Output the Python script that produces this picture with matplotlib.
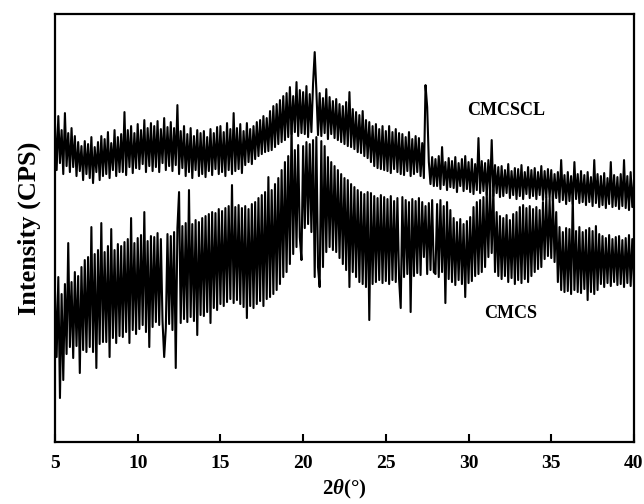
"""XRD patterns of CMCS and cross-linked CMCSCL (2theta 5-40 deg)."""

import matplotlib
matplotlib.use("Agg")
import matplotlib.pyplot as plt
import numpy as np

# ---------------------------------------------------------------------------
# Data: intensity (arbitrary units) every 0.1 deg, 5.0 -> 40.0
# each row below is one degree (x.0 ... x.9); the last value is 40.0
# ---------------------------------------------------------------------------
TWO_THETA_START = 5.0
TWO_THETA_STEP = 0.1

cmcscl = [
    318, 272, 326, 279, 312, 268, 329, 276, 309, 270,   # 5
    314, 275, 306, 266, 300, 271, 296, 262, 301, 268,   # 6
    298, 264, 305, 259, 295, 270, 300, 262, 306, 266,   # 7
    303, 268, 310, 264, 299, 272, 312, 266, 305, 270,   # 8
    308, 270, 330, 267, 312, 275, 316, 269, 309, 274,   # 9
    318, 273, 312, 278, 322, 270, 314, 276, 319, 271,   # 10
    316, 275, 321, 270, 313, 279, 324, 272, 315, 276,   # 11
    320, 271, 314, 277, 337, 268, 311, 274, 316, 266,   # 12
    308, 270, 314, 264, 306, 272, 312, 266, 309, 268,   # 13
    311, 265, 305, 271, 313, 267, 309, 273, 315, 268,   # 14
    316, 270, 310, 266, 319, 272, 313, 268, 329, 271,   # 15
    314, 273, 318, 269, 311, 277, 319, 280, 313, 278,   # 16
    316, 283, 320, 286, 322, 288, 326, 290, 324, 291,   # 17
    331, 292, 336, 295, 338, 298, 342, 300, 346, 302,   # 18
    349, 305, 355, 308, 346, 310, 360, 306, 352, 309,   # 19
    350, 308, 356, 305, 348, 310, 358, 390, 352, 307,   # 20
    349, 306, 344, 309, 353, 303, 345, 308, 341, 304,   # 21
    343, 302, 338, 300, 336, 298, 340, 296, 350, 295,   # 22
    333, 293, 330, 290, 327, 289, 331, 286, 322, 284,   # 23
    320, 280, 316, 276, 318, 274, 313, 273, 316, 272,   # 24
    311, 271, 316, 269, 310, 273, 313, 270, 309, 268,   # 25
    308, 267, 305, 271, 310, 266, 303, 268, 306, 270,   # 26
    304, 266, 299, 264, 357, 335, 280, 258, 285, 256,   # 27
    283, 256, 286, 253, 295, 257, 280, 252, 284, 255,   # 28
    281, 254, 285, 250, 279, 256, 283, 251, 286, 253,   # 29
    280, 250, 283, 248, 278, 252, 304, 249, 281, 251,   # 30
    279, 247, 282, 250, 302, 246, 277, 249, 275, 245,   # 31
    276, 246, 272, 249, 278, 244, 271, 247, 274, 243,   # 32
    273, 246, 277, 243, 270, 248, 275, 244, 272, 246,   # 33
    274, 243, 270, 247, 276, 242, 271, 245, 273, 244,   # 34
    272, 241, 268, 244, 270, 240, 282, 242, 267, 238,   # 35
    270, 241, 266, 238, 280, 243, 268, 239, 271, 240,   # 36
    267, 237, 270, 240, 265, 236, 282, 239, 268, 235,   # 37
    266, 237, 269, 234, 264, 238, 280, 235, 267, 236,   # 38
    265, 233, 268, 236, 282, 234, 266, 232, 270, 235,   # 39
    262,                                                # 40
]

cmcs = [
    150, 85, 165, 44, 148, 62, 158, 88, 199, 95,        # 5
    160, 84, 170, 96, 166, 69, 175, 92, 182, 90,        # 6
    185, 95, 215, 90, 188, 74, 192, 98, 219, 100,       # 7
    190, 100, 196, 85, 213, 104, 192, 99, 198, 106,     # 8
    196, 105, 200, 110, 203, 99, 224, 112, 199, 108,    # 9
    204, 113, 207, 117, 230, 110, 201, 95, 206, 115,    # 10
    205, 120, 209, 117, 203, 121, 85, 114, 208, 118,    # 11
    206, 112, 210, 74, 214, 250, 119, 216, 123, 219,    # 12
    120, 252, 125, 218, 121, 222, 107, 220, 127, 224,   # 13
    126, 226, 130, 228, 119, 230, 134, 229, 132, 233,   # 14
    138, 231, 136, 234, 140, 236, 143, 257, 139, 235,   # 15
    142, 237, 138, 234, 135, 236, 124, 233, 136, 238,   # 16
    134, 240, 138, 244, 141, 247, 136, 250, 143, 265,   # 17
    145, 252, 148, 258, 152, 264, 158, 272, 165, 280,   # 18
    170, 286, 178, 319, 188, 292, 195, 297, 205, 182,   # 19
    296, 214, 300, 218, 298, 210, 302, 165, 305, 175,   # 20
    155, 301, 175, 296, 190, 285, 195, 280, 192, 276,   # 21
    190, 272, 184, 268, 178, 264, 172, 262, 155, 258,   # 22
    170, 255, 165, 252, 160, 250, 158, 248, 155, 250,   # 23
    122, 249, 158, 246, 160, 244, 162, 247, 159, 245,   # 24
    161, 243, 158, 246, 162, 241, 160, 244, 163, 134,   # 25
    245, 165, 242, 168, 240, 130, 243, 166, 241, 169,   # 26
    244, 167, 240, 185, 236, 168, 239, 172, 242, 170,   # 27
    168, 238, 165, 242, 170, 236, 139, 240, 163, 232,   # 28
    160, 224, 157, 220, 162, 223, 158, 218, 145, 221,   # 29
    159, 225, 161, 235, 166, 240, 168, 242, 170, 245,   # 30
    175, 250, 185, 257, 189, 252, 170, 230, 166, 226,   # 31
    163, 224, 166, 227, 160, 222, 164, 228, 158, 230,   # 32
    162, 235, 159, 237, 163, 234, 160, 236, 166, 233,   # 33
    170, 235, 173, 232, 175, 240, 183, 245, 186, 243,   # 34
    184, 246, 180, 230, 160, 215, 152, 210, 150, 214,   # 35
    151, 213, 148, 245, 152, 211, 150, 215, 149, 210,   # 36
    153, 212, 142, 214, 150, 211, 148, 216, 152, 208,   # 37
    158, 206, 155, 204, 159, 207, 156, 203, 160, 205,   # 38
    157, 206, 158, 202, 155, 204, 159, 207, 156, 203,   # 39
    158,                                                # 40
]

x_ticks = [5, 10, 15, 20, 25, 30, 35, 40]
series_labels = ["CMCSCL", "CMCS"]

FONT = "Liberation Serif"


def main() -> None:
    plt.rcParams.update({
        "font.family": FONT,
        "font.weight": "bold",
        "mathtext.fontset": "custom",
        "mathtext.rm": f"{FONT}:bold",
        "mathtext.it": f"{FONT}:italic:bold",
        "mathtext.bf": f"{FONT}:bold",
    })

    x_top = TWO_THETA_START + TWO_THETA_STEP * np.arange(len(cmcscl))
    x_bot = TWO_THETA_START + TWO_THETA_STEP * np.arange(len(cmcs))

    fig = plt.figure(figsize=(6.44, 5.04), dpi=100)
    ax = fig.add_axes([0.0854, 0.123, 0.899, 0.849])

    ax.plot(x_top, cmcscl, color="black", linewidth=1.5)
    ax.plot(x_bot, cmcs, color="black", linewidth=1.5)

    ax.set_xlim(5, 40)
    ax.set_ylim(0, 428)
    ax.set_xticks(x_ticks)
    ax.set_xticklabels([str(t) for t in x_ticks], fontsize=14, fontweight="bold")
    ax.set_yticks([])
    ax.tick_params(axis="x", direction="in", length=6, width=1.5, pad=9)
    for spine in ax.spines.values():
        spine.set_linewidth(1.6)

    ax.text(32.3, 332, series_labels[0], ha="center", va="center",
            fontsize=13, fontweight="bold")
    ax.text(32.55, 129, series_labels[1], ha="center", va="center",
            fontsize=13, fontweight="bold")

    ax.set_xlabel(r"$\mathit{2\theta}$(°)", fontsize=15, fontweight="bold", labelpad=5)
    ax.set_ylabel("Intensity (CPS)", fontsize=19, fontweight="bold", labelpad=10)

    fig.savefig("out.png", dpi=100)
    plt.close(fig)


if __name__ == "__main__":
    main()
